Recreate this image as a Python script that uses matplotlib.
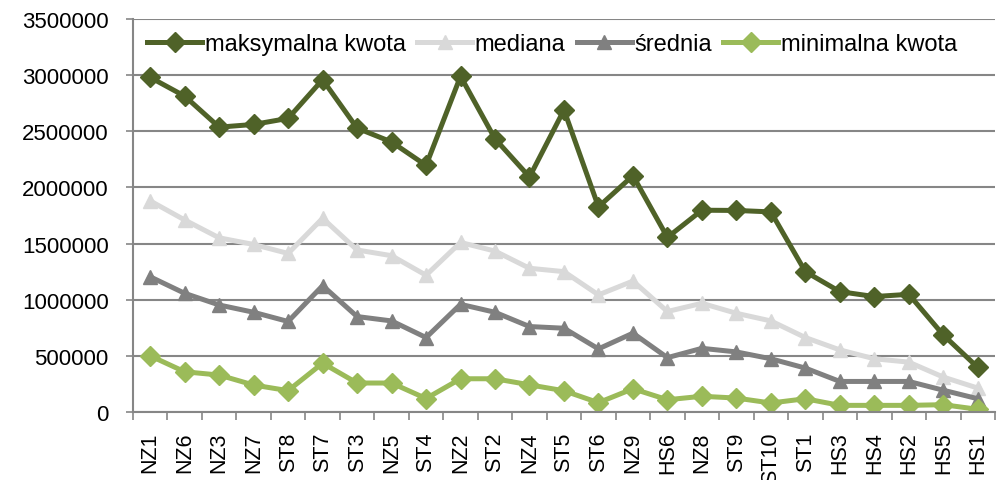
import numpy as np
import matplotlib
matplotlib.use("Agg")
import matplotlib.pyplot as plt
from matplotlib.ticker import FuncFormatter

plt.rcParams['font.family'] = ['Liberation Sans', 'DejaVu Sans']

categories = ["NZ1", "NZ6", "NZ3", "NZ7", "ST8", "ST7", "ST3", "NZ5", "ST4", "NZ2",
              "ST2", "NZ4", "ST5", "ST6", "NZ9", "HS6", "NZ8", "ST9", "ST10", "ST1",
              "HS3", "HS4", "HS2", "HS5", "HS1"]

maks = [2980000, 2813000, 2537000, 2561000, 2615000, 2960000, 2528000, 2405000, 2196000, 2990000,
        2433000, 2093000, 2690000, 1827000, 2105000, 1555000, 1797000, 1795000, 1782000, 1250000,
        1072000, 1028000, 1048000, 686000, 397000]
mediana = [1880000, 1710000, 1551000, 1492000, 1412000, 1725000, 1443000, 1392000, 1218000, 1510000,
           1433000, 1280000, 1250000, 1043000, 1166000, 895000, 968000, 879000, 811000, 663000,
           553000, 474000, 444000, 311000, 213000]
srednia = [1204000, 1057000, 953000, 888000, 806000, 1125000, 850000, 811000, 663000, 959000,
           888000, 761000, 746000, 562000, 702000, 484000, 567000, 535000, 474000, 391000,
           272000, 272000, 272000, 194000, 118000]
minimalna = [500000, 358000, 329000, 240000, 190000, 435000, 258000, 258000, 120000, 296000,
             296000, 242000, 189000, 83000, 207000, 109000, 140000, 124000, 80000, 118000,
             59000, 59000, 59000, 65000, 24000]

series = [
    ("maksymalna kwota", maks, "#4F6228", "D"),
    ("mediana", mediana, "#D9D9D9", "^"),
    ("średnia", srednia, "#808080", "^"),
    ("minimalna kwota", minimalna, "#9BBB59", "D"),
]

fig = plt.figure(figsize=(10.02, 4.81), dpi=100)
ax = fig.add_axes([0.1327, 0.1414, 0.8603, 0.8170])

x = np.arange(len(categories))
for label, vals, color, marker in series:
    ax.plot(x, vals, color=color, lw=3.6, marker=marker, markersize=10,
            label=label, solid_joinstyle="miter")

ax.set_xlim(-0.5, len(categories) - 0.5)
ax.set_ylim(0, 3500000)
ax.set_yticks(np.arange(0, 3500001, 500000))
ax.yaxis.set_major_formatter(FuncFormatter(lambda v, p: f"{int(v)}"))
ax.yaxis.grid(True, color="#868686", lw=1.5)
ax.set_axisbelow(True)

ax.set_xticks(np.arange(-0.5, len(categories), 1))
ax.set_xticklabels([])
ax.set_xticks(x, minor=True)
ax.set_xticklabels(categories, minor=True, rotation=90, fontsize=15.5)
ax.tick_params(axis="x", which="minor", length=0, pad=14)
ax.tick_params(axis="x", which="major", length=6, color="#868686", width=1.2)
ax.tick_params(axis="y", length=5, color="#868686", width=1.2, labelsize=16, pad=12.5)

for side in ["top", "right"]:
    ax.spines[side].set_visible(False)
for side in ["left", "bottom"]:
    ax.spines[side].set_color("#868686")
    ax.spines[side].set_linewidth(1.5)

ax.legend(loc="upper left", ncol=4, frameon=False, fontsize=17, handlelength=2.33,
          handletextpad=0.12, columnspacing=0.47, borderaxespad=0.2,
          bbox_to_anchor=(0.0, 1.0))

fig.savefig("out.png", dpi=100)
